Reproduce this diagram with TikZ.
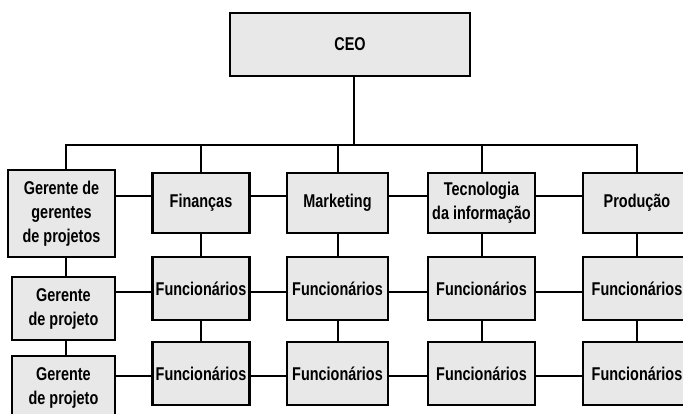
\documentclass[tikz,border=0pt]{standalone}
\usepackage{fontspec}
\setmainfont{Liberation Sans}[FakeStretch=0.78]
\begin{document}
\begin{tikzpicture}[x=1pt,y=-1pt,
  box/.style={draw, line width=2.2pt, fill=gray!18, inner sep=0pt, align=center,
    font=\bfseries\fontsize{18.5}{24}\selectfont},
  link/.style={line width=2pt}]
\useasboundingbox (0,0) rectangle (683,414);
\clip (0,0) rectangle (683,414);
% top
\node[box, minimum width=240pt, minimum height=63pt] (ceo) at (350,44.5) {CEO};
% row 1
\node[box, minimum width=107pt, minimum height=87pt] (gg) at (61.5,213.5) {Gerente de\\gerentes\\de projetos};
\node[box, minimum width=97pt, minimum height=60pt] (fin) at (201,203) {Finanças};
\node[box, minimum width=101pt, minimum height=60pt] (mkt) at (337.5,203) {Marketing};
\node[box, minimum width=107pt, minimum height=60pt] (ti) at (481.5,203) {Tecnologia\\da informação};
\node[box, minimum width=108pt, minimum height=60pt] (prod) at (637,203) {Produção};
% row 2
\node[box, minimum width=103pt, minimum height=63pt] (gp1) at (63.5,308.5) {Gerente\\de projeto};
\node[box, minimum width=97pt, minimum height=63pt] (f2) at (201,288.5) {Funcionários};
\node[box, minimum width=101pt, minimum height=63pt] (m2) at (337.5,288.5) {Funcionários};
\node[box, minimum width=107pt, minimum height=63pt] (t2) at (481.5,288.5) {Funcionários};
\node[box, minimum width=108pt, minimum height=63pt] (p2) at (637,288.5) {Funcionários};
% row 3
\node[box, minimum width=103pt, minimum height=63pt] (gp2) at (63.5,387.5) {Gerente\\de projeto};
\node[box, minimum width=97pt, minimum height=63pt] (f3) at (201,373.5) {Funcionários};
\node[box, minimum width=101pt, minimum height=63pt] (m3) at (337.5,373.5) {Funcionários};
\node[box, minimum width=107pt, minimum height=63pt] (t3) at (481.5,373.5) {Funcionários};
\node[box, minimum width=108pt, minimum height=63pt] (p3) at (637,373.5) {Funcionários};
% connectors
\coordinate (stem) at (354,145);
\coordinate (r1) at (0,196);
\coordinate (r2) at (0,292);
\coordinate (r3) at (0,376);
\draw[link] (ceo.south -| stem) -- (stem);
\draw[link] ([xshift=4pt]gg.north) -- ([xshift=4pt]gg.north |- stem) -- (prod.north |- stem) -- (prod.north);
\draw[link] (fin.north |- stem) -- (fin.north);
\draw[link] (mkt.north |- stem) -- (mkt.north);
\draw[link] (ti.north |- stem) -- (ti.north);
% row horizontals
\draw[link] (gg.east |- r1) -- (fin.west |- r1);
\draw[link] (fin.east |- r1) -- (mkt.west |- r1);
\draw[link] (mkt.east |- r1) -- (ti.west |- r1);
\draw[link] (ti.east |- r1) -- (prod.west |- r1);
\draw[link] (gp1.east |- r2) -- (f2.west |- r2);
\draw[link] (f2.east |- r2) -- (m2.west |- r2);
\draw[link] (m2.east |- r2) -- (t2.west |- r2);
\draw[link] (t2.east |- r2) -- (p2.west |- r2);
\draw[link] (gp2.east |- r3) -- (f3.west |- r3);
\draw[link] (f3.east |- r3) -- (m3.west |- r3);
\draw[link] (m3.east |- r3) -- (t3.west |- r3);
\draw[link] (t3.east |- r3) -- (p3.west |- r3);
% verticals
\draw[link] ([xshift=4pt]gg.south) -- ([xshift=4pt]gg.south |- gp1.north);
\draw[link] ([xshift=2pt]gp1.south) -- ([xshift=2pt]gp1.south |- gp2.north);
\draw[link] (fin.south) -- (f2.north);
\draw[link] (f2.south) -- (f3.north);
\draw[link] (mkt.south) -- (m2.north);
\draw[link] (m2.south) -- (m3.north);
\draw[link] (ti.south) -- (t2.north);
\draw[link] (t2.south) -- (t3.north);
\draw[link] (prod.south) -- (p2.north);
\draw[link] (p2.south) -- (p3.north);
\end{tikzpicture}
\end{document}
